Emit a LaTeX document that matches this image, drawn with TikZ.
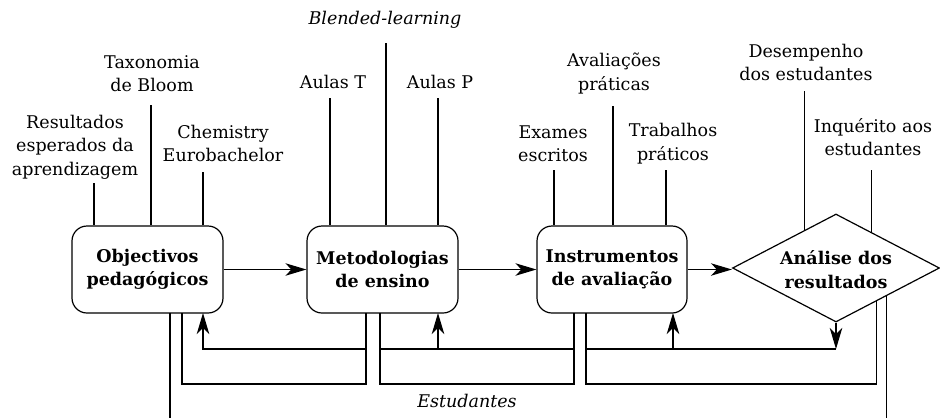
\documentclass[tikz,border=0pt]{standalone}
\usepackage{fontspec}
\setmainfont{DejaVu Serif}
\usetikzlibrary{arrows.meta,shapes.geometric,calc}
\newcommand\myfs{\fontsize{17.5}{23.5}\selectfont}
\begin{document}
\begin{tikzpicture}[x=1pt,y=-1pt,line width=1.2pt,
  box/.style={draw,rounded corners=15pt,minimum width=151pt,minimum height=87pt,inner sep=0pt,align=center,font=\bfseries\myfs},
  lab/.style={align=center,font=\myfs,inner sep=0pt},
  arr/.style={-{Stealth[length=21pt,width=12.5pt,inset=6pt]}}]
\useasboundingbox (0,0) rectangle (940,418);
% main blocks
\node[box] (obj) at (147.5,269.5) {Objectivos\\pedagógicos};
\node[box] (met) at (382.5,269.5) {Metodologias\\de ensino};
\node[box,minimum width=150pt] (ins) at (612,269.5) {Instrumentos\\de avaliação};
\node[draw,diamond,minimum width=207pt,minimum height=108pt,inner sep=0pt] (dia) at (836,268) {};
\node[lab,font=\bfseries\myfs] (diat) at (836,269.5) {Análise dos\\resultados};
% labels
\node[lab] (l1) at (75,147) {Resultados\\esperados da\\aprendizagem};
\node[lab] (l2) at (152,73.5) {Taxonomia\\de Bloom};
\node[lab] (l3) at (223,143.5) {Chemistry\\Eurobachelor};
\node[lab] (l4) at (333,82) {Aulas T};
\node[lab] (l5) at (440,82) {Aulas P};
\node[lab,font=\itshape\myfs] (l6) at (385,20) {Blended-learning};
\node[lab] (l7) at (553,143.5) {Exames\\escritos};
\node[lab] (l8) at (614,73.5) {Avaliações\\práticas};
\node[lab] (l9) at (673,143.5) {Trabalhos\\práticos};
\node[lab] (l10) at (806,62.5) {Desempenho\\dos estudantes};
\node[lab] (l11) at (873,137) {Inquérito aos\\estudantes};
\node[lab,font=\itshape\myfs] (l12) at (467,401) {Estudantes};
% top input lines
\coordinate (t1) at (94,183);
\coordinate (t2) at (151,105);
\coordinate (t3) at (203,172);
\coordinate (t4) at (330,98);
\coordinate (t5) at (386,43);
\coordinate (t6) at (438,98);
\coordinate (t7) at (554,170);
\coordinate (t8) at (613,106);
\coordinate (t9) at (666,170);
\foreach \t/\b in {t1/obj,t2/obj,t3/obj,t4/met,t5/met,t6/met,t7/ins,t8/ins,t9/ins}
  \draw (\t) -- (\t |- \b.north);
\coordinate (e1) at ($(dia.west)!0.696!(dia.north)$);
\coordinate (e2) at ($(dia.north)!0.343!(dia.east)$);
\coordinate (e3) at ($(dia.south)!0.391!(dia.east)$);
\coordinate (e4) at ($(dia.south)!0.488!(dia.east)$);
\coordinate (ly) at (0,349);
\coordinate (lo) at (0,384);
\coordinate (lb) at (0,418);
\coordinate (d1top) at (0,91);
\coordinate (d2top) at (0,170);
\draw (e1 |- d1top) -- (e1);
\draw (e2 |- d2top) -- (e2);
% main flow
\draw[arr] (obj) -- (met);
\draw[arr] (met) -- (ins);
\draw[arr] (ins.east) -- (ins.east -| dia.west);
% bottom connections
\coordinate (a1) at (170,313);
\coordinate (a2) at (182,313);
\coordinate (a3) at (203,313);
\coordinate (b1) at (366,313);
\coordinate (b2) at (380,313);
\coordinate (b3) at (438,313);
\coordinate (c1) at (574,313);
\coordinate (c2) at (586,313);
\coordinate (c3) at (673,313);
\draw (a1) -- (a1 |- lb);
\draw (e4) -- (e4 |- lb);
\draw (a2) -- (a2 |- lo) -- (b1 |- lo) -- (b1);
\draw (b2) -- (b2 |- lo) -- (c1 |- lo) -- (c1);
\draw (c2) -- (c2 |- lo) -- (e3 |- lo) -- (e3);
\draw[arr] (dia.south) -- (dia.south |- ly);
\draw (dia.south |- ly) -- (c2 |- ly);
\draw (c1 |- ly) -- (b2 |- ly);
\draw[arr] (b1 |- ly) -- (a3 |- ly) -- (a3);
\draw[arr] (b3 |- ly) -- (b3);
\draw[arr] (c3 |- ly) -- (c3);
\end{tikzpicture}
\end{document}
